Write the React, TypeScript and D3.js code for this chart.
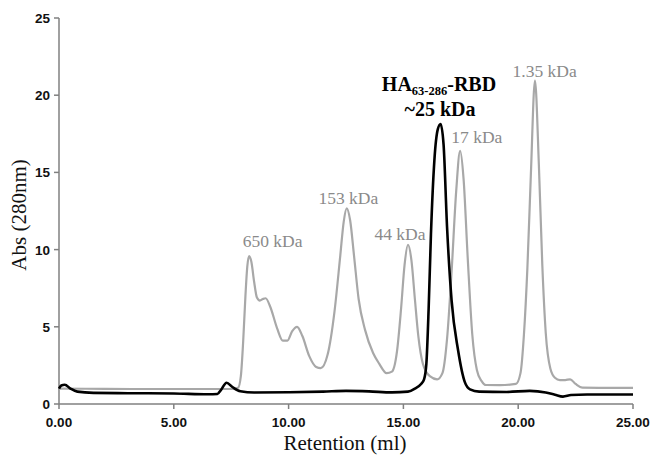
import React from "react";
import * as d3 from "d3";

const standardX = [0, 2, 4, 6, 7.5, 7.8, 7.92, 8.02, 8.12, 8.2, 8.28, 8.38, 8.5, 8.62, 8.75, 8.88, 9.0, 9.2, 9.5, 9.75, 9.95, 10.15, 10.37, 10.6, 10.9, 11.2, 11.4, 11.7, 12.0, 12.25, 12.4, 12.53, 12.68, 12.85, 13.05, 13.33, 13.68, 13.95, 14.27, 14.5, 14.72, 14.9, 15.05, 15.2, 15.35, 15.5, 15.65, 15.85, 16.15, 16.47, 16.7, 16.9, 17.1, 17.3, 17.47, 17.62, 17.8, 18.0, 18.2, 18.4, 18.6, 19.2, 19.9, 20.1, 20.25, 20.4, 20.55, 20.73, 20.9, 21.05, 21.2, 21.4, 21.6, 21.82, 22.05, 22.26, 22.5, 22.8, 23.5, 25];
const standardY = [1.0, 0.98, 0.97, 0.97, 0.97, 1.05, 1.8, 4.0, 7.0, 8.9, 9.58, 9.2, 7.9, 6.9, 6.7, 6.8, 6.85, 6.3, 4.9, 4.1, 4.1, 4.7, 5.0, 4.4, 3.1, 2.4, 2.32, 3.2, 6.0, 9.6, 11.8, 12.67, 11.9, 9.6, 6.8, 4.8, 3.3, 2.6, 2.0, 2.1, 3.4, 6.2, 9.0, 10.3, 9.3, 6.8, 4.4, 2.6, 1.8, 1.6, 2.0, 4.2, 8.6, 13.8, 16.4, 14.6, 9.5, 4.5, 2.2, 1.5, 1.23, 1.22, 1.3, 2.0, 4.5, 8.8, 14.8, 20.94, 15.5, 9.0, 4.6, 2.3, 1.7, 1.55, 1.55, 1.6, 1.3, 1.06, 1.05, 1.05];

const sampleX = [0, 0.1, 0.25, 0.5, 0.8, 1.5, 3, 5, 6.5, 6.9, 7.05, 7.3, 7.55, 7.9, 8.5, 10, 11.5, 12.5, 13.5, 14.5, 15.2, 15.5, 15.77, 15.9, 16.0, 16.1, 16.2, 16.35, 16.5, 16.62, 16.75, 16.9, 17.1, 17.38, 17.68, 17.9, 18.3, 19.5, 20.5, 21.2, 21.6, 21.95, 22.3, 23, 25];
const sampleY = [1.0, 1.2, 1.25, 1.0, 0.8, 0.72, 0.7, 0.68, 0.63, 0.65, 0.9, 1.38, 1.1, 0.82, 0.74, 0.76, 0.8, 0.85, 0.82, 0.75, 0.8, 1.0, 1.3, 1.6, 2.6, 6.2, 11.0, 15.8, 17.8, 18.13, 16.8, 11.5, 6.7, 3.5, 1.4, 0.95, 0.8, 0.78, 0.85, 0.75, 0.6, 0.48, 0.58, 0.62, 0.62];

const xTicks = [0, 5, 10, 15, 20, 25];
const yTicks = [0, 5, 10, 15, 20, 25];

const peakLabels = ["650 kDa", "153 kDa", "44 kDa", "17 kDa", "1.35 kDa"];
const peakLabelX = [9.3, 12.6, 14.85, 18.2, 21.15];
const peakLabelY = [10.2, 12.95, 10.6, 16.9, 21.2];

export default function App() {
  const width = 654;
  const height = 456;
  const x = d3.scaleLinear().domain([0, 25]).range([59, 633]);
  const y = d3.scaleLinear().domain([0, 25]).range([404, 18]);
  const line = d3
    .line<[number, number]>()
    .x((d) => x(d[0]))
    .y((d) => y(d[1]))
    .curve(d3.curveMonotoneX);
  const stdPts = standardX.map((v, i) => [v, standardY[i]] as [number, number]);
  const smpPts = sampleX.map((v, i) => [v, sampleY[i]] as [number, number]);
  const axisColor = "#808080";
  const tickFont = "'Liberation Sans', Arial, sans-serif";
  const serif = "'Liberation Serif', 'Times New Roman', serif";

  return (
    <svg width={width} height={height} style={{ position: "absolute", left: 0, top: 0 }}>
      <rect width={width} height={height} fill="#fff" />
      <line x1={x(0)} x2={x(0)} y1={y(25)} y2={y(0)} stroke={axisColor} strokeWidth={1.5} />
      <line x1={x(0)} x2={x(25)} y1={y(0)} y2={y(0)} stroke={axisColor} strokeWidth={1.5} />
      {yTicks.map((t) => (
        <g key={"y" + t}>
          <line x1={x(0) - 5} x2={x(0)} y1={y(t)} y2={y(t)} stroke={axisColor} strokeWidth={1.5} />
          <text x={x(0) - 9} y={y(t) + 5} textAnchor="end" fontFamily={tickFont} fontWeight="bold" fontSize={13.5} fill="#111">
            {t}
          </text>
        </g>
      ))}
      {xTicks.map((t) => (
        <g key={"x" + t}>
          <line x1={x(t)} x2={x(t)} y1={y(0)} y2={y(0) + 5} stroke={axisColor} strokeWidth={1.5} />
          <text x={x(t)} y={427} textAnchor="middle" fontFamily={tickFont} fontWeight="bold" fontSize={13.5} fill="#111">
            {t.toFixed(2)}
          </text>
        </g>
      ))}
      <text x={345} y={450} textAnchor="middle" fontFamily={serif} fontSize={21} fill="#111">
        Retention (ml)
      </text>
      <text transform="translate(26,215) rotate(-90)" textAnchor="middle" fontFamily={serif} fontSize={21} fill="#111">
        Abs (280nm)
      </text>
      <path d={line(stdPts) || ""} fill="none" stroke="#a8a8a8" strokeWidth={2.2} />
      <path d={line(smpPts) || ""} fill="none" stroke="#000" strokeWidth={2.6} />
      {peakLabels.map((l, i) => (
        <text key={l} x={x(peakLabelX[i])} y={y(peakLabelY[i])} textAnchor="middle" fontFamily={serif} fontSize={17.5} fill="#8a8a8a">
          {l}
        </text>
      ))}
      <text x={439} y={91} textAnchor="middle" fontFamily={serif} fontSize={20} fontWeight="bold" fill="#000">
        <tspan>HA</tspan>
        <tspan fontSize={12.5} dy={4}>63-286</tspan>
        <tspan dy={-4}>-RBD</tspan>
      </text>
      <text x={440} y={116} textAnchor="middle" fontFamily={serif} fontSize={20} fontWeight="bold" fill="#000">
        ~25 kDa
      </text>
    </svg>
  );
}
